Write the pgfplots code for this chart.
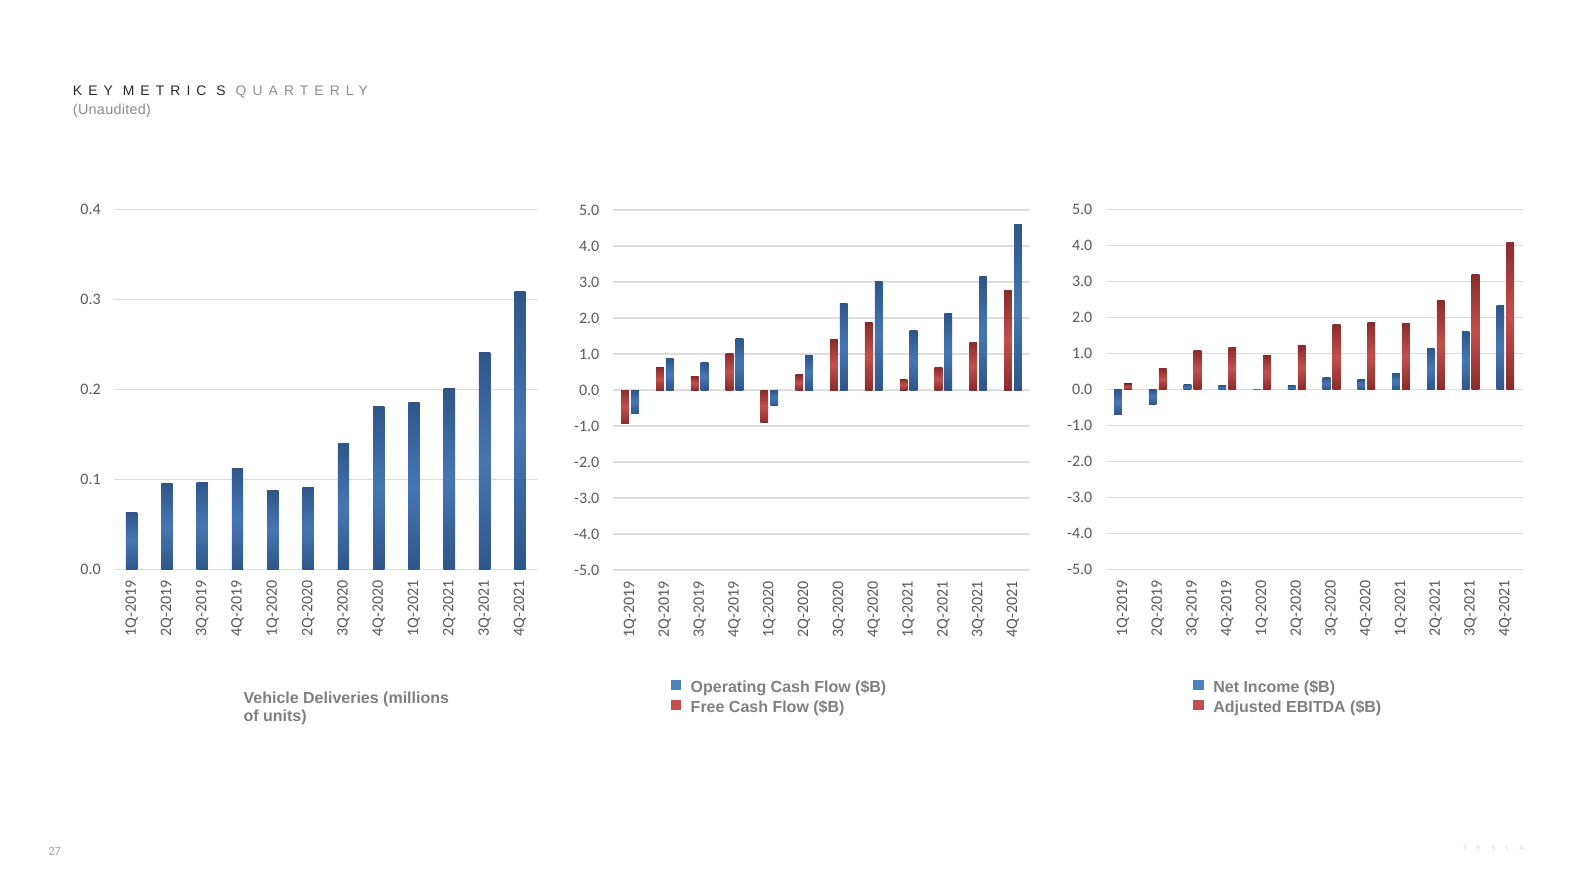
\documentclass[border=0pt]{standalone}
\usepackage{fontspec}
\setmainfont{Liberation Sans}
\newfontfamily\carlito{Carlito}
\newfontfamily\titlefont[LetterSpace=44]{Liberation Sans}
\newfontfamily\subfont[LetterSpace=2]{Liberation Sans}
\newfontfamily\logofont[LetterSpace=150]{Liberation Sans}
\usepackage{pgfplots}
\usepackage{pgfplotstable}
\pgfplotsset{compat=1.18}

\definecolor{bluedark}{HTML}{2E5689}
\definecolor{bluelight}{HTML}{4677B3}
\definecolor{reddark}{HTML}{8A2C2C}
\definecolor{redlight}{HTML}{C2504D}
\definecolor{legblue}{HTML}{4F81BD}
\definecolor{legred}{HTML}{C0504D}
\definecolor{tickgray}{HTML}{595959}
\definecolor{gridgray}{HTML}{DDDDDD}
\definecolor{leggray}{HTML}{7F7F7F}
\definecolor{titledark}{HTML}{262626}
\definecolor{titlegray}{HTML}{8C8C8C}

\pgfplotstableread{
x del ocf fcf ni ebitda
0  0.063 -0.640 -0.920 -0.702 0.152
1  0.095  0.864  0.614 -0.408 0.572
2  0.097  0.756  0.371  0.143 1.083
3  0.112  1.425  1.010  0.105 1.175
4  0.088 -0.440 -0.895  0.016 0.951
5  0.091  0.964  0.418  0.104 1.209
6  0.140  2.400  1.395  0.331 1.807
7  0.181  3.019  1.874  0.270 1.848
8  0.185  1.641  0.293  0.438 1.841
9  0.201  2.124  0.619  1.142 2.476
10 0.241  3.147  1.331  1.618 3.203
11 0.309  4.585  2.776  2.321 4.092
}\data

\pgfplotsset{
  kmbase/.style={
    scale only axis, height=270pt, xmin=-0.5, xmax=11.5,
    axis line style={draw=none}, major tick length=0pt,
    ymajorgrids, grid style={color=gridgray, line width=1.1pt},
    xtick={0,...,11},
    xticklabels={1Q-2019,2Q-2019,3Q-2019,4Q-2019,1Q-2020,2Q-2020,3Q-2020,4Q-2020,1Q-2021,2Q-2021,3Q-2021,4Q-2021},
    xticklabel style={rotate=90, anchor=east, inner sep=0pt,
      font=\carlito\fontsize{12}{14}\selectfont, text=tickgray},
    xticklabel shift=8pt,
    yticklabel style={anchor=east, inner sep=0pt, xshift=-9.75pt,
      font=\carlito\fontsize{12}{14}\selectfont, text=tickgray},
    /pgf/number format/fixed, /pgf/number format/fixed zerofill,
    /pgf/number format/precision=1, /pgf/number format/assume math mode=true,
    legend cell align=left,
    legend style={draw=none, fill=none, inner sep=0pt, outer sep=0pt,
      font=\bfseries\fontsize{12}{14}\selectfont, text=leggray,
      row sep=1.6pt, column sep=0pt,
      nodes={inner sep=0pt, text height=9pt, text depth=3pt}},
  },
  bluebar/.style={ybar, draw=none, forget plot, top color=bluedark, bottom color=bluedark, middle color=bluelight},
  redbar/.style={ybar, draw=none, forget plot, top color=reddark, bottom color=reddark, middle color=redlight},
  legsq/.style={legend image code/.code={%
    \pgfsetfillcolor{#1}%
    \pgfpathrectangle{\pgfpoint{0pt}{-1.5pt}}{\pgfpoint{7.7pt}{7.5pt}}%
    \pgfusepath{fill}%
    \pgfpathrectangle{\pgfpoint{0pt}{-1.5pt}}{\pgfpoint{15pt}{9pt}}%
    \pgfusepath{}}},
}

\begin{document}
\begin{tikzpicture}
\path[use as bounding box] (0pt,0pt) rectangle (1187.25pt,-667.5pt);

% titles
\node[anchor=base west, inner sep=0pt, font=\titlefont\fontsize{10.4}{12}\selectfont] at (54.5pt,-71.5pt)
  {\textcolor{titledark}{KEY METRIC S} \textcolor{titlegray}{QUARTERLY}};
\node[anchor=base west, inner sep=0pt, font=\subfont\fontsize{10.8}{12}\selectfont, text=titlegray] at (54.5pt,-86pt)
  {(Unaudited)};

% left chart
\begin{axis}[kmbase, at={(85.5pt,-426.98pt)}, anchor=south west, width=317.7pt,
  ymin=0, ymax=0.4, ytick={0,0.1,0.2,0.3,0.4}]
\pgfplotsinvokeforeach{0,...,11}{
  \addplot[bluebar, bar width=8.5pt, bar shift=0pt,
    restrict expr to domain={\coordindex}{#1:#1}] table[x=x, y=del] {\data};
}
\end{axis}
\node[anchor=base west, inner sep=0pt, font=\bfseries\fontsize{12}{14}\selectfont, text=leggray] at (182.5pt,-527.25pt)
  {Vehicle Deliveries (millions};
\node[anchor=base west, inner sep=0pt, font=\bfseries\fontsize{12}{14}\selectfont, text=leggray] at (182.5pt,-541.3pt)
  {of units)};

% middle chart
\begin{axis}[kmbase, at={(459.45pt,-427.5pt)}, anchor=south west, width=313.35pt,
  ymin=-5, ymax=5, ytick={-5,-4,...,5},
  legend style={at={(0.1391,-0.3000)}, anchor=north west}]
\addlegendimage{legsq=legblue}
\addlegendentry{Operating Cash Flow (\$B)}
\addlegendimage{legsq=legred}
\addlegendentry{Free Cash Flow (\$B)}
\pgfplotsinvokeforeach{0,...,11}{
  \addplot[bluebar, bar width=5.8pt, bar shift=3.7pt,
    restrict expr to domain={\coordindex}{#1:#1}] table[x=x, y=ocf] {\data};
  \addplot[redbar, bar width=5.8pt, bar shift=-3.7pt,
    restrict expr to domain={\coordindex}{#1:#1}] table[x=x, y=fcf] {\data};
}
\end{axis}

% right chart
\begin{axis}[kmbase, at={(829.2pt,-426.98pt)}, anchor=south west, width=312.8pt,
  ymin=-5, ymax=5, ytick={-5,-4,...,5},
  legend style={at={(0.2103,-0.3020)}, anchor=north west}]
\addlegendimage{legsq=legblue}
\addlegendentry{Net Income (\$B)}
\addlegendimage{legsq=legred}
\addlegendentry{Adjusted EBITDA (\$B)}
\pgfplotsinvokeforeach{0,...,11}{
  \addplot[bluebar, bar width=5.8pt, bar shift=-3.7pt,
    restrict expr to domain={\coordindex}{#1:#1}] table[x=x, y=ni] {\data};
  \addplot[redbar, bar width=5.8pt, bar shift=3.7pt,
    restrict expr to domain={\coordindex}{#1:#1}] table[x=x, y=ebitda] {\data};
}
\end{axis}

% footer
\node[anchor=base west, inner sep=0pt, font=\carlito\fontsize{9.5}{11}\selectfont, text=black!35] at (36pt,-641.5pt) {27};
\node[anchor=base east, inner sep=0pt, font=\logofont\fontsize{5}{6}\selectfont, text=black!15] at (1143pt,-637.5pt) {TESLA};
\end{tikzpicture}
\end{document}
